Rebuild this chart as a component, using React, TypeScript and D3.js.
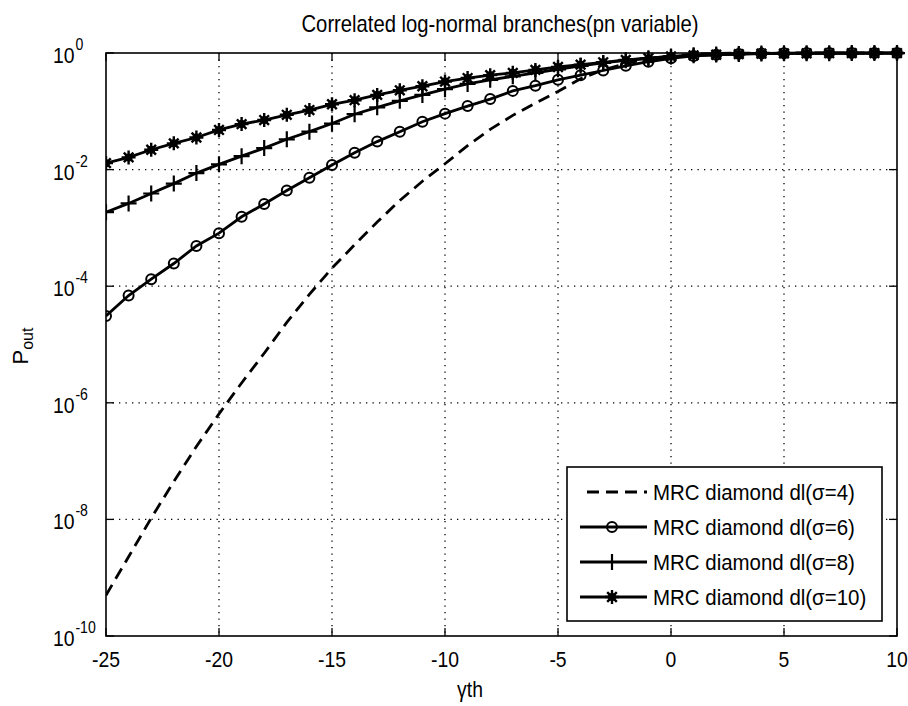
import React from "react";
import * as d3 from "d3";

const xValues: number[] = d3.range(-25, 11);

const sigma4: number[] = [
  5.01e-10, 2.29e-9, 1.05e-8, 4.47e-8, 1.78e-7, 6.46e-7, 2.19e-6, 7.08e-6, 2.4e-5, 7.24e-5,
  2.04e-4, 5.13e-4, 1.26e-3, 2.95e-3, 6.31e-3, 1.26e-2, 2.57e-2, 4.9e-2, 8.51e-2, 0.138,
  0.219, 0.363, 0.513, 0.661, 0.794, 0.891, 0.955, 0.982, 0.993, 0.997,
  0.999, 0.9995, 0.9997, 0.9998, 0.9999, 0.9999,
];
const sigma6: number[] = [
  3.09e-5, 6.92e-5, 1.32e-4, 2.45e-4, 4.9e-4, 8.13e-4, 1.55e-3, 2.57e-3, 4.37e-3, 7.24e-3,
  1.2e-2, 1.95e-2, 3.02e-2, 4.47e-2, 6.61e-2, 9.12e-2, 0.123, 0.162, 0.224, 0.275,
  0.347, 0.417, 0.501, 0.603, 0.708, 0.813, 0.891, 0.933, 0.966, 0.984,
  0.992, 0.996, 0.998, 0.999, 0.9995, 0.9998,
];
const sigma8: number[] = [
  1.86e-3, 2.63e-3, 3.89e-3, 5.75e-3, 8.71e-3, 1.23e-2, 1.7e-2, 2.34e-2, 3.31e-2, 4.47e-2,
  6.17e-2, 8.91e-2, 0.117, 0.151, 0.191, 0.24, 0.295, 0.347, 0.398, 0.457,
  0.525, 0.603, 0.676, 0.75, 0.813, 0.871, 0.912, 0.944, 0.966, 0.979,
  0.987, 0.992, 0.995, 0.997, 0.998, 0.999,
];
const sigma10: number[] = [
  1.29e-2, 1.62e-2, 2.19e-2, 2.82e-2, 3.55e-2, 4.79e-2, 6.03e-2, 7.08e-2, 8.71e-2, 0.105,
  0.132, 0.155, 0.191, 0.229, 0.269, 0.324, 0.372, 0.417, 0.457, 0.513,
  0.575, 0.631, 0.692, 0.759, 0.813, 0.871, 0.912, 0.933, 0.955, 0.973,
  0.982, 0.989, 0.993, 0.995, 0.998, 0.999,
];

const seriesNames: string[] = [
  "MRC diamond dl(σ=4)",
  "MRC diamond dl(σ=6)",
  "MRC diamond dl(σ=8)",
  "MRC diamond dl(σ=10)",
];
const seriesMarkers: string[] = ["none", "circle", "plus", "star"];
const seriesValues: number[][] = [sigma4, sigma6, sigma8, sigma10];

const xTicks: number[] = [-25, -20, -15, -10, -5, 0, 5, 10];
const yTickExps: number[] = [0, -2, -4, -6, -8, -10];

const titleText = "Correlated log-normal branches(pn variable)";

const FONT = "'Liberation Sans', Arial, sans-serif";
const SX = 0.88;

const L = 106, R = 897, T = 53, B = 636;

function Marker({ kind, cx, cy }: { kind: string; cx: number; cy: number }) {
  if (kind === "circle") {
    return <circle cx={cx} cy={cy} r={5} fill="none" stroke="#000" strokeWidth={2} />;
  }
  if (kind === "plus") {
    const a = 8;
    return (
      <path
        d={`M${cx - a},${cy}H${cx + a}M${cx},${cy - a}V${cy + a}`}
        stroke="#000"
        strokeWidth={2.2}
        fill="none"
      />
    );
  }
  if (kind === "star") {
    const a = 7, b = 4.8;
    return (
      <g>
        <path
          d={`M${cx - a},${cy}H${cx + a}M${cx},${cy - a}V${cy + a}M${cx - b},${cy - b}L${cx + b},${cy + b}M${cx - b},${cy + b}L${cx + b},${cy - b}`}
          stroke="#000"
          strokeWidth={2.4}
          fill="none"
        />
        <circle cx={cx} cy={cy} r={4} fill="#000" />
      </g>
    );
  }
  return null;
}

function NText({ x, y, anchor, size, children }: { x: number; y: number; anchor?: string; size: number; children: React.ReactNode }) {
  return (
    <g transform={`translate(${x},${y}) scale(${SX},1)`}>
      <text x={0} y={0} textAnchor={anchor || "start"} fontFamily={FONT} fontSize={size} fill="#000">
        {children}
      </text>
    </g>
  );
}

export default function App() {
  const x = d3.scaleLinear().domain([-25, 10]).range([L, R]);
  const y = d3.scaleLog().domain([1e-10, 1]).range([B, T]);
  const line = d3
    .line<number>()
    .x((_, i) => x(xValues[i]))
    .y((d) => y(d));

  const legendX = 567, legendY = 467, legendW = 315, legendH = 154;
  const rowY = [492, 527, 562, 597];

  return (
    <svg width={908} height={706} style={{ display: "block", position: "absolute", left: 0, top: 0, background: "#fff" }}>
      <rect x={0} y={0} width={908} height={706} fill="#fff" />
      <defs>
        <clipPath id="plotclip">
          <rect x={L} y={T - 8} width={R - L + 8} height={B - T + 8} />
        </clipPath>
      </defs>
      {/* grid */}
      {xTicks.slice(1, -1).map((t) => (
        <line key={"gx" + t} x1={x(t)} x2={x(t)} y1={T} y2={B} stroke="#000" strokeWidth={1.3} strokeDasharray="1.3,5.2" />
      ))}
      {yTickExps.slice(1, -1).map((e) => (
        <line key={"gy" + e} x1={L} x2={R} y1={y(Math.pow(10, e))} y2={y(Math.pow(10, e))} stroke="#000" strokeWidth={1.3} strokeDasharray="1.3,5.2" />
      ))}
      {/* ticks */}
      {xTicks.map((t) => (
        <g key={"tx" + t}>
          <line x1={x(t)} x2={x(t)} y1={B} y2={B - 8} stroke="#000" strokeWidth={1.3} />
          <line x1={x(t)} x2={x(t)} y1={T} y2={T + 8} stroke="#000" strokeWidth={1.3} />
          <NText x={x(t)} y={667} anchor="middle" size={22}>
            {t}
          </NText>
        </g>
      ))}
      {yTickExps.map((e) => {
        const yy = y(Math.pow(10, e));
        return (
          <g key={"ty" + e}>
            <line x1={L} x2={L + 8} y1={yy} y2={yy} stroke="#000" strokeWidth={1.3} />
            <line x1={R} x2={R - 8} y1={yy} y2={yy} stroke="#000" strokeWidth={1.3} />
            <NText x={53} y={yy + 10} size={22}>
              10
              <tspan dx={1} dy={-13} fontSize={16}>{String(e)}</tspan>
            </NText>
          </g>
        );
      })}
      {/* series */}
      <g clipPath="url(#plotclip)">
        {seriesValues.map((vals, si) => (
          <g key={"s" + si}>
            <path
              d={line(vals) || ""}
              fill="none"
              stroke="#000"
              strokeWidth={2.8}
              strokeDasharray={si === 0 ? "12,7" : undefined}
            />
            {vals.map((v, i) => (
              <Marker key={i} kind={seriesMarkers[si]} cx={x(xValues[i])} cy={y(v)} />
            ))}
          </g>
        ))}
      </g>
      {/* frame */}
      <rect x={L} y={T} width={R - L} height={B - T} fill="none" stroke="#000" strokeWidth={1.6} />
      {/* legend */}
      <rect x={legendX} y={legendY} width={legendW} height={legendH} fill="#fff" stroke="#000" strokeWidth={1.6} />
      {seriesNames.map((name, i) => (
        <g key={"lg" + i}>
          <line
            x1={i === 0 ? 587 : 580}
            x2={647}
            y1={rowY[i]}
            y2={rowY[i]}
            stroke="#000"
            strokeWidth={2.8}
            strokeDasharray={i === 0 ? "12,7" : undefined}
          />
          <Marker kind={seriesMarkers[i]} cx={612} cy={rowY[i]} />
          <g transform={`translate(653,${rowY[i] + 8}) scale(0.93,1)`}>
            <text x={0} y={0} fontFamily={FONT} fontSize={22} fill="#000">
              {name}
            </text>
          </g>
        </g>
      ))}
      {/* title */}
      <NText x={500} y={32} anchor="middle" size={23}>
        {titleText}
      </NText>
      {/* axis labels */}
      <NText x={470} y={697} anchor="middle" size={22}>
        γth
      </NText>
      <g transform="translate(28,346) rotate(-90)">
        <text textAnchor="middle" fontFamily={FONT} fontSize={22} fill="#000" transform={`scale(1,1)`}>
          P<tspan dy={5} fontSize={16}>out</tspan>
        </text>
      </g>
    </svg>
  );
}
